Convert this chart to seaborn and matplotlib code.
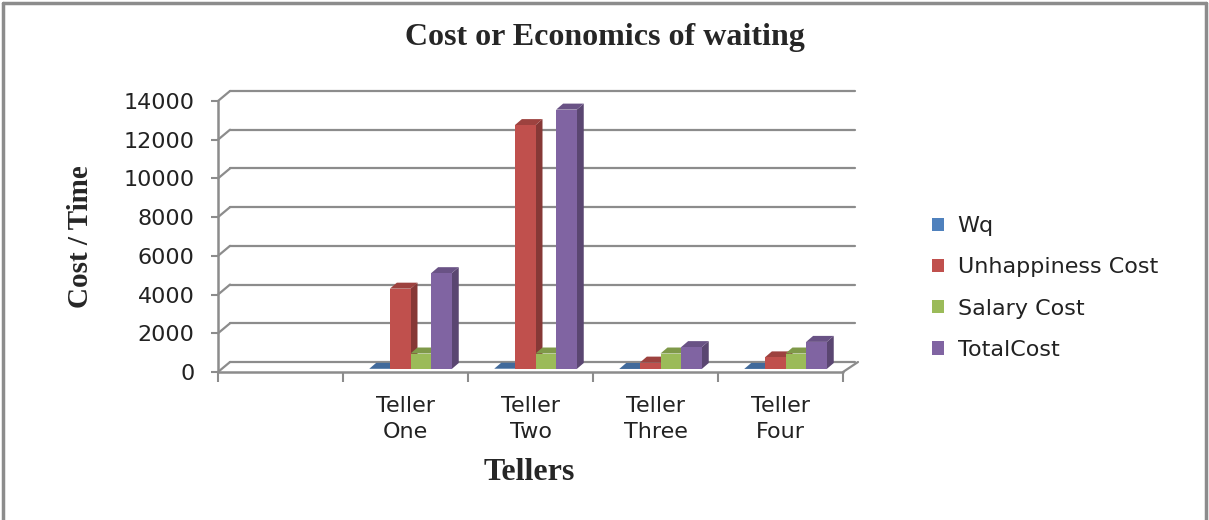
import numpy as np
import pandas as pd
import seaborn as sns
import matplotlib.pyplot as plt
import matplotlib.transforms as mtransforms
from matplotlib.lines import Line2D
from matplotlib.patches import Polygon, Patch
from matplotlib.colors import to_rgb

# data (first category is an empty slot)
tellers = [" ", "Teller\nOne", "Teller\nTwo", "Teller\nThree", "Teller\nFour"]
series = ["Wq", "Unhappiness Cost", "Salary Cost", "TotalCost"]
wq = [10, 15, 2, 4]
unhappiness = [4150, 12600, 330, 600]
salary = [800, 800, 800, 800]
total = [4950, 13400, 1130, 1400]
yticks = [0, 2000, 4000, 6000, 8000, 10000, 12000, 14000]

colors = ["#4F81BD", "#C0504D", "#9BBB59", "#8064A2"]

df = pd.DataFrame({
    "teller": tellers[1:] * 4,
    "series": [s for s in series for _ in range(4)],
    "value": wq + unhappiness + salary + total,
})

sns.set_style("white")
plt.rcParams["font.family"] = ["DejaVu Sans"]
serif = ["Liberation Serif", "DejaVu Serif"]
grey = "#8c8c8c"

W, H = 1209, 520
fig = plt.figure(figsize=(W / 100, H / 100), dpi=100)
ax = fig.add_axes([218 / W, 148 / H, 625 / W, 271 / H])

sns.barplot(data=df, x="teller", y="value", hue="series",
            order=tellers, hue_order=series, palette=colors,
            width=0.66, saturation=1, ax=ax, legend=False, zorder=3)

ax.set_xlim(-0.5, 4.5)
ax.set_ylim(0, 14000)
for s in ax.spines.values():
    s.set_visible(False)
ax.grid(False)
ax.set_xlabel("")
ax.set_ylabel("")

# 3d-ish depth: back wall offset in pixels
dpx, dpy = 12, 10
back = ax.transData + mtransforms.ScaledTranslation(dpx / 100, dpy / 100, fig.dpi_scale_trans)
# bars stand half way into the depth
mid = ax.transData + mtransforms.ScaledTranslation(5 / 100, 3 / 100, fig.dpi_scale_trans)

# back wall gridlines + diagonals to the front axis
for v in yticks:
    ax.plot([-0.5, 4.5], [v, v], color=grey, lw=1.6, transform=back, zorder=0.5, clip_on=False)
    xa, ya = ax.transData.transform((-0.5, v))
    ax.add_line(Line2D([xa, xa + dpx], [ya, ya + dpy], color=grey, lw=1.6,
                       transform=None, zorder=0.6, clip_on=False))
# front left axis and floor
ax.plot([-0.5, -0.5], [0, 14000], color=grey, lw=1.8, zorder=1, clip_on=False)
ax.plot([-0.5, 4.5], [0, 0], color=grey, lw=1.8, zorder=1, clip_on=False)
xr, yr = ax.transData.transform((4.5, 0))
ax.add_line(Line2D([xr, xr + dpx + 3], [yr, yr + dpy], color=grey, lw=1.6,
                   transform=None, zorder=1, clip_on=False))

# ticks
ax.set_yticks(yticks)
ax.set_yticklabels([str(v) for v in yticks])
ax.tick_params(axis="y", length=5, width=1.5, color=grey, pad=12, labelsize=16,
               labelcolor="#222222", left=True)
ax.set_xticks(range(5))
ax.set_xticklabels(tellers, linespacing=1.4)
ax.tick_params(axis="x", which="major", length=0, pad=17, labelsize=16, labelcolor="#222222")
ax.set_xticks(np.arange(-0.5, 5, 1), minor=True)
ax.tick_params(axis="x", which="minor", length=7, width=1.5, color=grey, bottom=True)

# side and top faces of the bars
fig.canvas.draw()
x0d, y0d = ax.transData.inverted().transform((0, 0))
x1d, y1d = ax.transData.inverted().transform((7, 6))
ddx, ddy = x1d - x0d, y1d - y0d


def shade(c, f):
    r, g, b = to_rgb(c)
    return (r * f, g * f, b * f)


for p in list(ax.patches):
    x, w, h = p.get_x(), p.get_width(), p.get_height()
    c = p.get_facecolor()
    p.set_edgecolor("none")
    p.set_transform(mid)
    p.set_clip_on(False)
    side = Polygon([(x + w, 0), (x + w + ddx, ddy), (x + w + ddx, h + ddy), (x + w, h)],
                   closed=True, facecolor=shade(c, 0.7), edgecolor="none", zorder=2)
    top = Polygon([(x, h), (x + ddx, h + ddy), (x + w + ddx, h + ddy), (x + w, h)],
                  closed=True, facecolor=shade(c, 0.82), edgecolor="none", zorder=2.1)
    for f in (side, top):
        f.set_transform(mid)
        f.set_clip_on(False)
        ax.add_patch(f)

# legend
handles = [Patch(facecolor=c, edgecolor="none") for c in colors]
fig.legend(handles, series, loc="center left", bbox_to_anchor=(912 / W, 1 - 288 / H),
           frameon=False, fontsize=16, handlelength=0.55, handleheight=0.55,
           handletextpad=0.6, labelspacing=0.95, labelcolor="#222222")

# titles
fig.text(605 / W, 1 - 38 / H, "Cost or Economics of waiting", ha="center", va="center",
         fontsize=23, fontweight="bold", family=serif)
fig.text(80 / W, 1 - 237 / H, "Cost / Time", ha="center", va="center", rotation=90,
         fontsize=21, fontweight="bold", family=serif)
fig.text(529 / W, 1 - 472 / H, "Tellers", ha="center", va="center",
         fontsize=23, fontweight="bold", family=serif)

# outer frame (left, top, right)
for xs, ys in [([3, 3], [0, H - 3]), ([3, W - 3], [H - 3, H - 3]), ([W - 3, W - 3], [H - 3, 0])]:
    fig.add_artist(Line2D([x / W for x in xs], [y / H for y in ys], color=grey, lw=2.5,
                          transform=fig.transFigure))

fig.savefig("out.png", dpi=100)
